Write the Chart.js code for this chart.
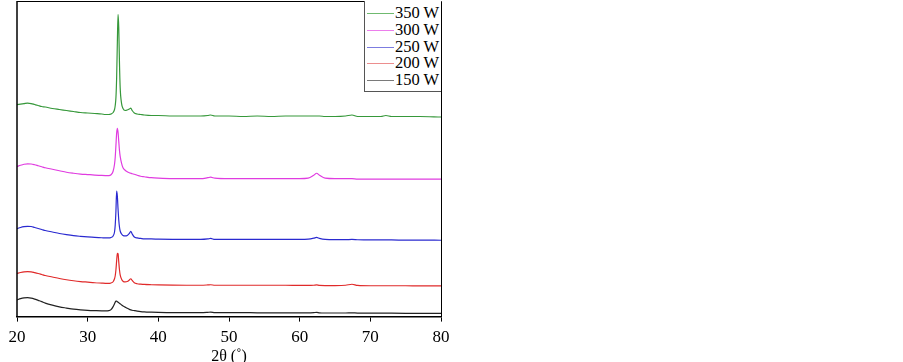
<!DOCTYPE html>
<html lang="en">
<head>
    <meta charset="UTF-8">
    <title>XRD patterns</title>
    <script src="https://cdn.jsdelivr.net/npm/chart.js"></script>
    <style>
        body {
            margin: 0;
            background-color: #ffffff;
            font-family: "Liberation Serif", "Times New Roman", serif;
        }
        .chart-container {
            position: absolute;
            left: 0;
            top: 0;
            width: 470px;
            height: 362px;
        }
        #legend {
            position: absolute;
            left: 364px;
            top: 1px;
            width: 76px;
            height: 90px;
            border: 1px solid #555;
            border-top: none;
            border-right: none;
            background: #fff;
        }
        .legend-row {
            position: absolute;
            left: 0;
            height: 16px;
            width: 76px;
        }
        .legend-line {
            position: absolute;
            left: 2px;
            top: 9px;
            width: 27px;
            height: 0;
            border-top: 1px solid;
        }
        .legend-text {
            position: absolute;
            left: 30px;
            top: 0px;
            font-size: 16.5px;
            line-height: 18px;
            color: #000;
        }
    </style>
</head>
<body>
    <div class="chart-container">
        <canvas id="xrdChart"></canvas>
        <div id="legend"></div>
    </div>

    <script>
        // 2theta positions (degrees)
        const twoTheta = [20, 20.5, 21, 21.5, 22, 22.5, 23, 23.5, 24, 25, 26, 27, 28, 29, 30, 31, 32, 32.5, 33, 33.3,
            33.6, 33.8, 33.9, 34.0, 34.1, 34.2, 34.3, 34.4, 34.5, 34.6, 34.8, 35.0, 35.3, 35.6, 35.9, 36.1, 36.3, 36.6,
            37, 37.5, 38, 39, 40, 42, 44, 46, 47, 47.4, 48, 50, 52, 54, 56, 58, 60, 61.2, 62.0, 62.4, 62.8, 63.6,
            65, 66.5, 67.4, 68.2, 70, 71.5, 72.2, 73, 75, 77, 80];

        // intensities (arbitrary, stacked with offsets)
        const w350 = [213, 213.5, 214, 214.5, 214, 213, 212, 211, 210.5, 209, 208, 207, 206, 205, 204.5, 204, 203.5, 203, 203, 203.5,
            205, 208, 212, 220, 240, 275, 303.5, 290, 255, 230, 214, 209, 207, 207.5, 208.5, 209.5, 207, 204.5,
            203.5, 203, 202.5, 202, 202, 201.5, 201.5, 201.5, 202, 202.5, 201.5, 201.5, 201, 201.5, 201, 201.5, 201.5, 201.5, 201.5, 201.5, 201.5, 201,
            201, 201.5, 202.5, 201, 201, 201, 202, 201, 201, 201, 200.5];
        const w300 = [150.7, 152, 153, 153.5, 153.3, 152.5, 151.5, 150.5, 149.5, 148, 146.5, 145, 144, 143.2, 142.7, 142.2, 141.8, 141.7, 141.7, 142.5,
            146, 153, 160, 172, 184, 189, 185, 176, 167, 161, 154, 149.5, 147, 145.5, 144.5, 144, 143.5, 143,
            142, 141, 140.5, 139.5, 139, 138.5, 138.5, 138.5, 139.5, 140, 139, 138.5, 138.5, 138.5, 138.5, 138.5, 138.5, 139, 142, 144, 142, 139,
            138.5, 138.5, 138.5, 138, 138, 138, 138, 138, 138, 138, 138];
        const w250 = [88.3, 89.5, 90.3, 90.7, 90.5, 89.5, 88.5, 87.5, 86.5, 85, 83.5, 82.3, 81.3, 80.6, 80, 79.5, 79.2, 79, 79, 79.5,
            81, 85, 92, 106, 126, 121, 108, 97, 90, 86, 83, 81.5, 81, 81.5, 83.5, 85.7, 83, 80,
            79, 78.5, 78, 78, 77.8, 77.6, 77.5, 77.5, 78, 78.5, 77.5, 77.5, 77.5, 77.5, 77.5, 77.5, 77.5, 77.8, 78.8, 79.5, 78.5, 77.5,
            77.3, 77.3, 77.5, 77.2, 77, 77, 77, 77, 76.8, 76.8, 76.7];
        const w200 = [43.3, 44.3, 45, 45.2, 45, 44.2, 43.3, 42.3, 41.3, 39.8, 38.3, 37, 36, 35.2, 34.6, 34, 33.6, 33.4, 33.3, 33.8,
            35, 38, 41, 47, 56, 63.5, 63, 55, 47, 42, 37.5, 35.5, 34.8, 35.2, 36.8, 38, 36.3, 34,
            33, 32.6, 32.3, 32, 31.8, 31.6, 31.5, 31.5, 31.8, 32, 31.5, 31.5, 31.5, 31.5, 31.5, 31.5, 31.3, 31.3, 31.5, 31.8, 31.3, 31.2,
            31.2, 31.5, 32.5, 31.3, 31, 31, 31, 31, 31, 30.8, 30.8];
        const w150 = [16.7, 18, 18.8, 19, 18.6, 17.6, 16.3, 15, 13.6, 11.5, 9.8, 8.6, 7.5, 6.8, 6.3, 6, 5.8, 5.8, 6, 7,
            10, 13, 14.5, 15.5, 15.5, 15, 14.5, 14, 13.3, 12.8, 11.7, 10.7, 9.5, 8.3, 7.3, 6.8, 6.4, 6,
            5.5, 5, 4.7, 4.4, 4.2, 4, 4, 4, 4.3, 4.5, 4, 4, 4, 3.8, 3.8, 3.8, 3.7, 3.7, 4, 4.3, 3.8, 3.6,
            3.6, 3.6, 3.8, 3.5, 3.5, 3.4, 3.5, 3.4, 3.3, 3.3, 3.2];

        const seriesLabels = ['350 W', '300 W', '250 W', '200 W', '150 W'];
        const seriesColors = ['#36983a', '#e03ce0', '#2a2ad0', '#e02a2a', '#222222'];
        const legendColors = ['#6fba6f', '#ec7eec', '#7c7ce0', '#ec8e8e', '#7a7a7a'];
        const xTicks = [20, 30, 40, 50, 60, 70, 80];

        const allSeries = [w350, w300, w250, w200, w150];

        const datasets = allSeries.map((values, i) => ({
            label: seriesLabels[i],
            data: twoTheta.map((x, j) => ({ x: x, y: values[j] })),
            borderColor: seriesColors[i],
            borderWidth: 1.2,
            pointRadius: 0,
            fill: false,
            cubicInterpolationMode: 'monotone'
        }));

        // frame around the plot area (top, left, right)
        const framePlugin = {
            id: 'frame',
            afterDraw(chart) {
                const { ctx, chartArea } = chart;
                ctx.save();
                ctx.strokeStyle = '#000';
                ctx.lineWidth = 1.5;
                ctx.beginPath();
                ctx.moveTo(chartArea.left, chartArea.bottom);
                ctx.lineTo(chartArea.left, chartArea.top);
                ctx.stroke();
                ctx.lineWidth = 1;
                ctx.beginPath();
                ctx.moveTo(chartArea.left, chartArea.top + 0.5);
                ctx.lineTo(chartArea.right + 0.5, chartArea.top + 0.5);
                ctx.lineTo(chartArea.right + 0.5, chartArea.bottom);
                ctx.stroke();
                ctx.restore();
            }
        };

        const ctx = document.getElementById('xrdChart').getContext('2d');
        new Chart(ctx, {
            type: 'line',
            data: { datasets: datasets },
            options: {
                responsive: true,
                maintainAspectRatio: false,
                animation: false,
                layout: {
                    padding: { left: 17, right: 29, top: 1, bottom: 0 }
                },
                plugins: {
                    legend: { display: false },
                    tooltip: { enabled: false }
                },
                scales: {
                    x: {
                        type: 'linear',
                        min: 20,
                        max: 80,
                        afterBuildTicks: (scale) => {
                            scale.ticks = xTicks.map(v => ({ value: v }));
                        },
                        ticks: {
                            color: '#000',
                            padding: 6,
                            font: { family: 'Liberation Serif', size: 17 }
                        },
                        grid: {
                            drawOnChartArea: false,
                            drawTicks: true,
                            tickLength: 5,
                            color: '#000'
                        },
                        border: { display: true, color: '#000', width: 1.5 },
                        title: {
                            display: true,
                            text: '2θ (˚)',
                            color: '#000',
                            font: { family: 'Liberation Serif', size: 16, lineHeight: 1 },
                            padding: { top: -5, bottom: -3 }
                        }
                    },
                    y: {
                        display: false,
                        min: 0,
                        max: 317
                    }
                }
            },
            plugins: [framePlugin]
        });

        // legend as real text, built from the datasets
        const legendEl = document.getElementById('legend');
        seriesLabels.forEach((label, i) => {
            const row = document.createElement('div');
            row.className = 'legend-row';
            row.style.top = (3 + 16.75 * i) + 'px';
            row.innerHTML = '<div class="legend-line" style="border-color:' + legendColors[i] + '"></div>' +
                '<div class="legend-text">' + label + '</div>';
            legendEl.appendChild(row);
        });
    </script>
</body>
</html>
